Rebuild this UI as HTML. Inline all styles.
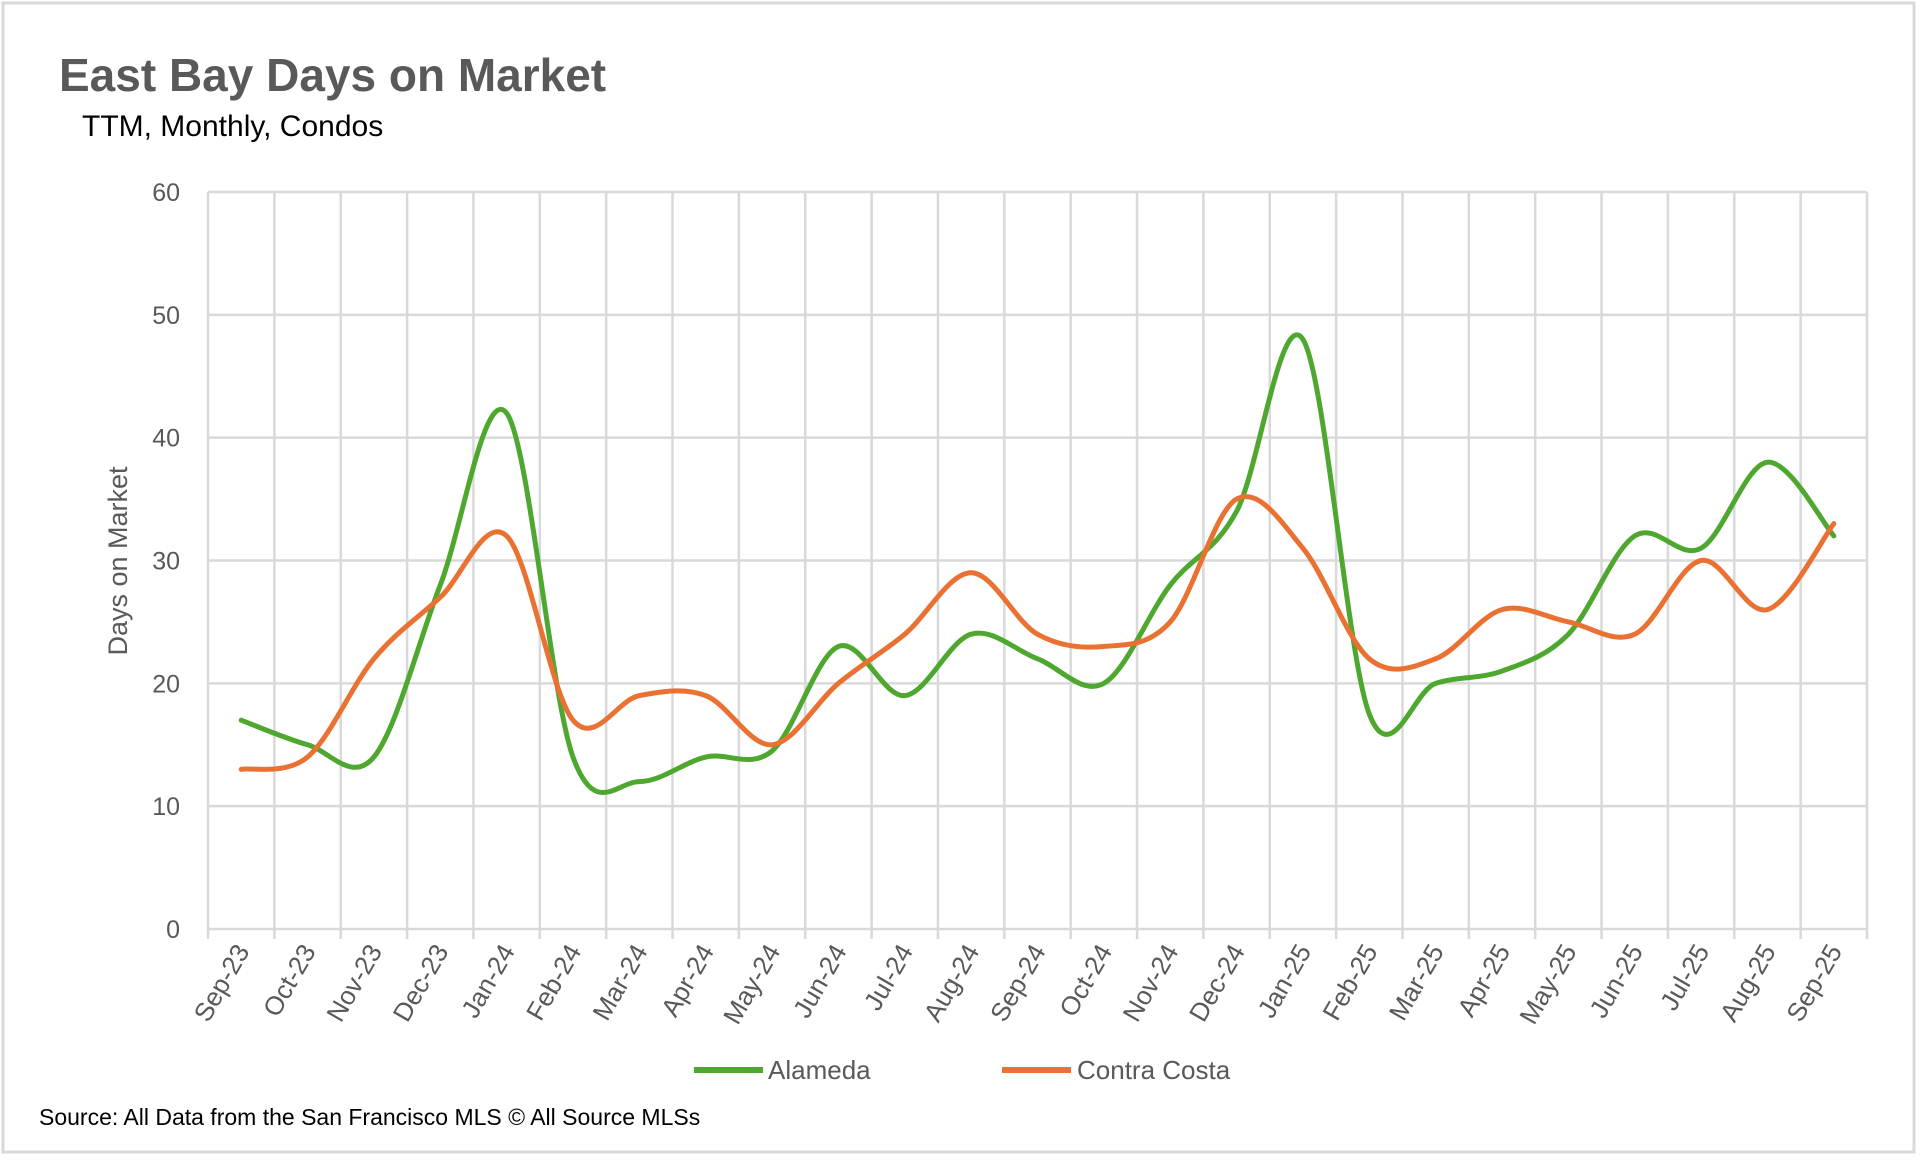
<!DOCTYPE html>
<html><head><meta charset="utf-8"><style>
html,body{margin:0;padding:0;background:#fff;}
body{width:1920px;height:1158px;overflow:hidden;font-family:"Liberation Sans",sans-serif;}
</style></head><body>
<svg id="chart" width="1920" height="1158" viewBox="0 0 1920 1158" xmlns="http://www.w3.org/2000/svg">
<rect x="3" y="3" width="1911" height="1149" fill="#fff" stroke="#d9d9d9" stroke-width="3"/>
<text x="59" y="91" font-size="46" font-weight="bold" fill="#595959" font-family="Liberation Sans Narrow, Liberation Sans, sans-serif">East Bay Days on Market</text>
<text x="82" y="136" font-size="30" fill="#000" font-family="Liberation Sans Narrow, Liberation Sans, sans-serif">TTM, Monthly, Condos</text>
<text transform="translate(127,561) rotate(-90)" text-anchor="middle" font-size="27" fill="#595959">Days on Market</text>
<g id="grid"></g><g id="yticks"></g><g id="xticks"></g><g id="series"></g>
<g>
<line x1="694" y1="1070" x2="763" y2="1070" stroke="#4EA72E" stroke-width="6"/>
<text x="768" y="1079" font-size="26" fill="#595959">Alameda</text>
<line x1="1002" y1="1070" x2="1071" y2="1070" stroke="#E97132" stroke-width="6"/>
<text x="1077" y="1079" font-size="26" fill="#595959">Contra Costa</text>
</g>
<text x="39" y="1125" font-size="23" fill="#000" font-family="Liberation Sans Narrow, Liberation Sans, sans-serif">Source: All Data from the San Francisco MLS © All Source MLSs</text>
</svg>
<script>
const categories=["Sep-23","Oct-23","Nov-23","Dec-23","Jan-24","Feb-24","Mar-24","Apr-24","May-24","Jun-24","Jul-24","Aug-24","Sep-24","Oct-24","Nov-24","Dec-24","Jan-25","Feb-25","Mar-25","Apr-25","May-25","Jun-25","Jul-25","Aug-25","Sep-25"];
const alameda=[17,15,14,28,42,14,12,14,14.5,23,19,24,22,20,28,34,48,17.5,20,21,24,32,31,38,32];
const contraCosta=[13,14,22,27,32,17,19,19,15,20,24,29,24,23,25,35,31,22,22,26,25,24,30,26,33];
const yTicks=[0,10,20,30,40,50,60];
const NS="http://www.w3.org/2000/svg";
const L=208,R=1867,T=192,B=929,yMax=60;
const band=(R-L)/categories.length;
const x=i=>L+band*(i+0.5);
const y=v=>B-(v/yMax)*(B-T);
function mk(tag,attrs,parent){const e=document.createElementNS(NS,tag);for(const k in attrs)e.setAttribute(k,attrs[k]);parent.appendChild(e);return e;}
const grid=document.getElementById('grid'),yt=document.getElementById('yticks'),xt=document.getElementById('xticks'),ser=document.getElementById('series');
yTicks.forEach(t=>{
 const ln=mk('line',{x1:L,x2:R,y1:y(t),y2:y(t),stroke:'#d9d9d9','stroke-width':2.5},grid);
 
 
 const tx=mk('text',{x:180,y:y(t)+9,'text-anchor':'end','font-size':25,fill:'#595959'},yt);
 tx.textContent=t;
 
 
});
for(let i=0;i<=categories.length;i++){
 const gx=L+band*i;
 const ln=mk('line',{x1:gx,x2:gx,y1:T,y2:B+10,stroke:'#d9d9d9','stroke-width':2.5},grid);
 
 
}
categories.forEach((c,i)=>{
 const tx=mk('text',{transform:`translate(${x(i)+9},${B+22}) rotate(-60)`,'text-anchor':'end','font-size':26,fill:'#595959'},xt);
 tx.textContent=c;
 
 
});
function smooth(vals){
 const p=vals.map((v,i)=>[x(i),y(v)]);
 let d=`M${p[0][0]},${p[0][1]}`;
 for(let i=0;i<p.length-1;i++){
  const p0=p[i-1]||p[i],p1=p[i],p2=p[i+1],p3=p[i+2]||p[i+1];
  const c1=[p1[0]+(p2[0]-p0[0])/6,p1[1]+(p2[1]-p0[1])/6];
  const c2=[p2[0]-(p3[0]-p1[0])/6,p2[1]-(p3[1]-p1[1])/6];
  d+=` C${c1[0]},${c1[1]} ${c2[0]},${c2[1]} ${p2[0]},${p2[1]}`;
 }
 return d;
}
const a=mk('path',{d:smooth(alameda),fill:'none',stroke:'#4EA72E','stroke-width':5,'stroke-linecap':'round'},ser);


const cc=mk('path',{d:smooth(contraCosta),fill:'none',stroke:'#E97132','stroke-width':5,'stroke-linecap':'round'},ser);


</script>
</body></html>
